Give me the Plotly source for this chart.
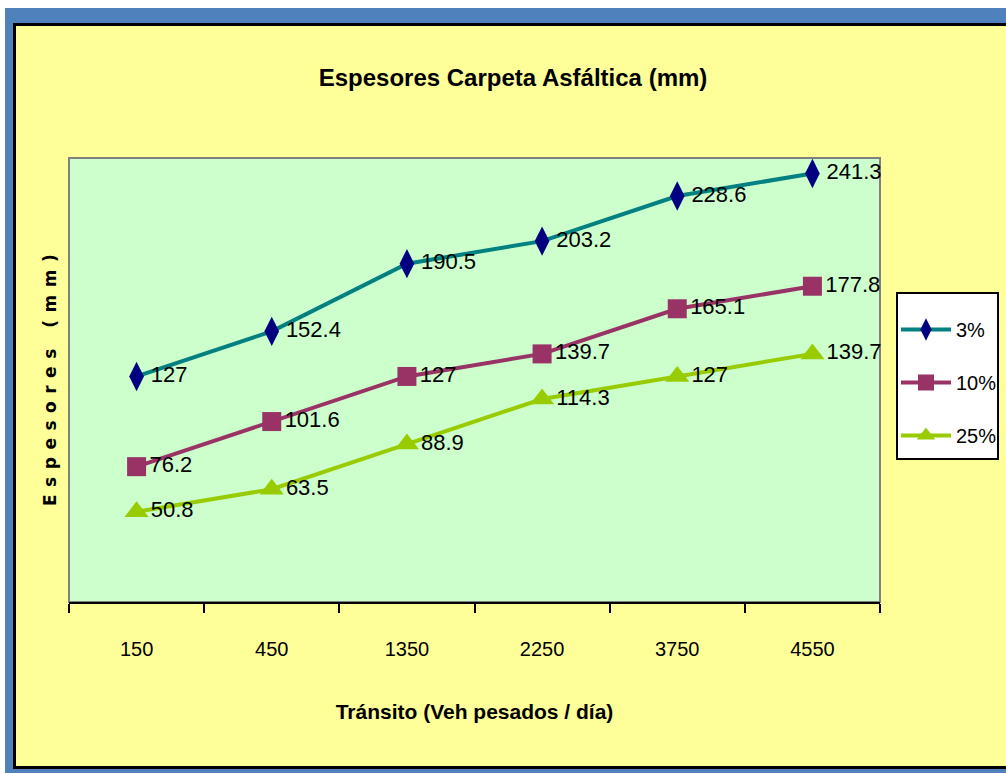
import plotly.graph_objects as go

# Data
transito = ["150", "450", "1350", "2250", "3750", "4550"]
serie_3 = [127, 152.4, 190.5, 203.2, 228.6, 241.3]
serie_10 = [76.2, 101.6, 127, 139.7, 165.1, 177.8]
serie_25 = [50.8, 63.5, 88.9, 114.3, 127, 139.7]
nombres = ["3%", "10%", "25%"]

# Figure geometry (pixels)
FIG_W, FIG_H = 1006, 773
L, R, T, B = 69, 126, 158, 171
PW = FIG_W - L - R
PH = FIG_H - T - B
BOTTOM = FIG_H - B


def px2x(px):
    return (px - L) / PW


def py2y(py):
    return (BOTTOM - py) / PH


FONT = "Liberation Sans, Arial, sans-serif"

estilos = [
    dict(line=dict(color="#008080", width=4),
         marker=dict(symbol="diamond-tall", size=21, color="#000080")),
    dict(line=dict(color="#993366", width=4),
         marker=dict(symbol="square", size=19, color="#993366")),
    dict(line=dict(color="#99CC00", width=4),
         marker=dict(symbol="triangle-up", size=21, color="#99CC00")),
]

fig = go.Figure()
for nombre, valores, st in zip(nombres, [serie_3, serie_10, serie_25], estilos):
    fig.add_trace(go.Scatter(
        x=transito, y=valores, name=nombre, legendgroup=nombre,
        mode="lines+markers+text",
        line=st["line"], marker=st["marker"],
        texttemplate="%{y}", textposition="middle right",
        textfont=dict(family=FONT, size=22, color="black"),
        cliponaxis=False,
    ))

shapes = [
    # outer blue frame
    dict(type="rect", xref="paper", yref="paper", layer="below",
         x0=px2x(5), x1=px2x(1020), y0=py2y(790), y1=py2y(8),
         fillcolor="#4F81BD", line=dict(width=0)),
    # yellow chart area with black border
    dict(type="rect", xref="paper", yref="paper", layer="below",
         x0=px2x(14.5), x1=px2x(1020), y0=py2y(767.5), y1=py2y(24.5),
         fillcolor="#FFFF99", line=dict(color="black", width=3)),
    # plot area
    dict(type="rect", xref="paper", yref="paper", layer="below",
         x0=0, x1=1, y0=0, y1=1,
         fillcolor="#CCFFCC", line=dict(color="#808080", width=2)),
    # legend box
    dict(type="rect", xref="paper", yref="paper", layer="below",
         x0=px2x(897), x1=px2x(998), y0=py2y(459), y1=py2y(293),
         fillcolor="white", line=dict(color="black", width=2)),
]

fig.update_layout(
    width=FIG_W, height=FIG_H,
    margin=dict(l=L, r=R, t=T, b=B, pad=0, autoexpand=False),
    paper_bgcolor="white",
    plot_bgcolor="rgba(0,0,0,0)",
    shapes=shapes,
    title=dict(text="<b>Espesores Carpeta Asfáltica (mm)</b>",
               font=dict(family=FONT, size=24, color="black"),
               x=513 / FIG_W, xanchor="center", xref="container",
               y=1 - 78 / FIG_H, yanchor="middle", yref="container"),
    xaxis=dict(
        type="category", range=[-0.5, 5.5],
        showline=True, linecolor="black", linewidth=2,
        ticks="outside", tickson="boundaries", ticklen=9,
        tickcolor="black", tickwidth=2,
        showgrid=False, zeroline=False,
        tickfont=dict(family=FONT, size=20, color="black"),
        ticklabelstandoff=28,
        title=dict(text="<b>Tránsito (Veh pesados / día)</b>",
                   font=dict(family=FONT, size=21, color="black"),
                   standoff=45),
    ),
    yaxis=dict(
        range=[0, 250], showticklabels=False, ticks="",
        showgrid=False, zeroline=False, showline=False,
    ),
    legend=dict(
        x=px2x(896), y=py2y(310), xanchor="left", yanchor="top",
        bgcolor="rgba(0,0,0,0)", borderwidth=0,
        font=dict(family=FONT, size=20, color="black"),
        tracegroupgap=24, traceorder="grouped", itemwidth=50,
    ),
    annotations=[
        dict(text='<b><span style="letter-spacing:7.5px">Espesores (mm)</span></b>',
             xref="paper", yref="paper", x=px2x(50), y=py2y(377),
             xanchor="center", yanchor="middle", textangle=-90,
             showarrow=False,
             font=dict(family="DejaVu Sans, Verdana, sans-serif", size=17,
                       color="black")),
    ],
)

fig.write_html("out.html")
